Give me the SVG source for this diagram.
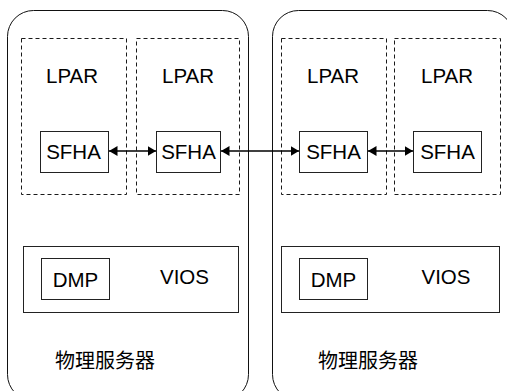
<svg xmlns="http://www.w3.org/2000/svg" width="507" height="391" viewBox="0 0 507 391">
  <defs>
    <style>
      .server { fill: #fff; stroke: #111; stroke-width: 1; }
      .lpar { fill: none; stroke: #1a1a1a; stroke-width: 1; stroke-dasharray: 4 3; }
      .box { fill: #fff; stroke: #222; stroke-width: 1; }
      .t { font-family: "Liberation Sans", Arial, sans-serif; font-size: 20.5px; fill: #000; }
      .cn { font-family: "Liberation Sans", "Noto Sans CJK SC", sans-serif; font-size: 20px; fill: #000; }
      .conn { stroke: #000; stroke-width: 1.5; fill: none; marker-start: url(#ah); marker-end: url(#ah); }
    </style>
    <marker id="ah" viewBox="0 0 10 10" refX="10" refY="5" markerWidth="8.5" markerHeight="10" markerUnits="userSpaceOnUse" orient="auto-start-reverse" preserveAspectRatio="none">
      <path d="M0,0 L10,5 L0,10 Z" fill="#000"/>
    </marker>
  </defs>
  <rect width="507" height="391" fill="#fff"/>

  <g id="server1">
    <rect class="server" x="7.5" y="10.5" width="241" height="390" rx="26" ry="26"/>
    <text class="cn" x="55" y="368">物理服务器</text>
  </g>
  <g id="server2">
    <rect class="server" x="272.5" y="10.5" width="241" height="390" rx="26" ry="26"/>
    <text class="cn" x="318" y="368">物理服务器</text>
  </g>

  <g id="lpar1">
    <rect class="lpar" x="21.5" y="38.5" width="105" height="156"/>
    <text class="t" x="72" y="83" text-anchor="middle">LPAR</text>
  </g>
  <g id="lpar2">
    <rect class="lpar" x="136.5" y="38.5" width="103" height="156"/>
    <text class="t" x="188" y="83" text-anchor="middle">LPAR</text>
  </g>
  <g id="lpar3">
    <rect class="lpar" x="281.5" y="38.5" width="105" height="156"/>
    <text class="t" x="333" y="83" text-anchor="middle">LPAR</text>
  </g>
  <g id="lpar4">
    <rect class="lpar" x="394.5" y="38.5" width="106" height="156"/>
    <text class="t" x="447" y="83" text-anchor="middle">LPAR</text>
  </g>

  <g id="sfha1">
    <rect class="box" x="40.5" y="131.5" width="68" height="41"/>
    <text class="t" x="73.5" y="159" text-anchor="middle">SFHA</text>
  </g>
  <g id="sfha2">
    <rect class="box" x="156.5" y="131.5" width="64" height="41"/>
    <text class="t" x="188.5" y="159" text-anchor="middle">SFHA</text>
  </g>
  <g id="sfha3">
    <rect class="box" x="299.5" y="131.5" width="68" height="41"/>
    <text class="t" x="333.5" y="159" text-anchor="middle">SFHA</text>
  </g>
  <g id="sfha4">
    <rect class="box" x="413.5" y="131.5" width="68" height="41"/>
    <text class="t" x="447.5" y="159" text-anchor="middle">SFHA</text>
  </g>

  <g id="vios1">
    <rect class="box" x="23.5" y="246.5" width="215" height="66"/>
    <text class="t" x="184.5" y="284" text-anchor="middle">VIOS</text>
  </g>
  <g id="dmp1">
    <rect class="box" x="41.5" y="258.5" width="68" height="41"/>
    <text class="t" x="75.5" y="287" text-anchor="middle">DMP</text>
  </g>
  <g id="vios2">
    <rect class="box" x="281.5" y="246.5" width="218" height="66"/>
    <text class="t" x="446" y="284" text-anchor="middle">VIOS</text>
  </g>
  <g id="dmp2">
    <rect class="box" x="299.5" y="258.5" width="68" height="41"/>
    <text class="t" x="333.5" y="287" text-anchor="middle">DMP</text>
  </g>

  <g id="connectors">
    <line class="conn" x1="109" y1="151" x2="156" y2="151"/>
    <line class="conn" x1="221" y1="151" x2="299" y2="151"/>
    <line class="conn" x1="368" y1="151" x2="413" y2="151"/>
  </g>
</svg>
